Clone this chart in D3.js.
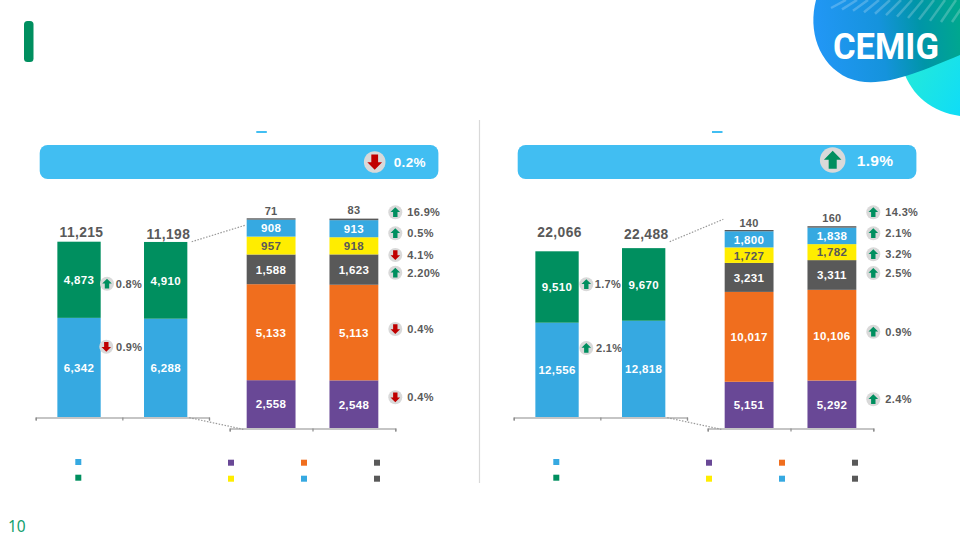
<!DOCTYPE html>
<html><head><meta charset="utf-8">
<script src="https://cdn.jsdelivr.net/npm/d3@7/dist/d3.min.js"></script>
<style>html,body{margin:0;padding:0;background:#fff}svg{display:block}text{font-family:"Liberation Sans",Arial,sans-serif;font-weight:700}</style>
</head><body><svg id="c" width="960" height="540"></svg>
<script>
// ---- data ----
const pageNumber = "10";
const logoText = "CEMIG";
const yearsIdx = [0, 1];
const leftMainA = [6342, 6288];
const leftMainB = [4873, 4910];
const leftTotals = [11215, 11198];
const rightMainA = [12556, 12818];
const rightMainB = [9510, 9670];
const rightTotals = [22066, 22488];
const leftPurple = [2558, 2548];
const leftOrange = [5133, 5113];
const leftGrey = [1588, 1623];
const leftYellow = [957, 918];
const leftBlue = [908, 913];
const leftOther = [71, 83];
const rightPurple = [5151, 5292];
const rightOrange = [10017, 10106];
const rightGrey = [3231, 3311];
const rightYellow = [1727, 1782];
const rightBlue = [1800, 1838];
const rightOther = [140, 160];
const leftHeadPct = ["0.2%", "down"];
const rightHeadPct = ["1.9%", "up"];
const leftMainPct = [["0.8%", "up"], ["0.9%", "down"]];
const rightMainPct = [["1.7%", "up"], ["2.1%", "up"]];
const leftDetailPct = [["16.9%","up"],["0.5%","up"],["4.1%","down"],["2.20%","up"],["0.4%","down"],["0.4%","down"]];
const rightDetailPct = [["14.3%","up"],["2.1%","up"],["3.2%","up"],["2.5%","up"],["0.9%","up"],["2.4%","up"]];

// ---- style & layout ----
const C = {blue:"#36A9E1", green:"#008F5F", purple:"#694896", orange:"#F06E1E", grey:"#595959", yellow:"#FFED00",
  head:"#41BEF2", red:"#C00000", disc:"#D9D9D9", axis:"#8C8C8C"};
const svg = d3.select("#c");
const fmt = d3.format(",");
const defs = svg.append("defs");

function grad(id,x1,y1,x2,y2,stops){
  const g=defs.append("linearGradient").attr("id",id).attr("gradientUnits","userSpaceOnUse")
    .attr("x1",x1).attr("y1",y1).attr("x2",x2).attr("y2",y2);
  stops.forEach(s=>g.append("stop").attr("offset",s[0]).attr("stop-color",s[1]));
}
grad("gBlue",815,40,960,20,[[0,"#2297F6"],[.45,"#1593DC"],[.72,"#0095A8"],[1,"#00A88E"]]);
grad("gCyan",905,80,960,110,[[0,"#22E8DC"],[1,"#10DDF6"]]);

// logo
svg.append("path").attr("fill","url(#gCyan)").attr("d","M903,70 C912,96 932,112 960,116 L960,48 Z");
svg.append("path").attr("fill","url(#gBlue)").attr("d","M816,0 C808,30 818,64 848,78 C878,90 915,74 960,55 L960,0 Z");
const hatch = d3.range(0,13).map(i=>845+i*11);
svg.append("g").selectAll("line").data(hatch).join("line")
  .attr("x1",d=>d+1).attr("y1",0).attr("x2",d=>d-14).attr("y2",d=>Math.min(8+(d-845)*.13,22))
  .attr("stroke","#fff").attr("stroke-opacity",.22).attr("stroke-width",2.5);
svg.append("text").attr("x",833).attr("y",59).attr("textLength",106).attr("lengthAdjust","spacingAndGlyphs")
  .attr("fill","#fff").style("font-family","Roboto").style("font-weight",700).style("font-size","36px").text(logoText);

// title marker, page number, divider
svg.append("rect").attr("x",24).attr("y",21).attr("width",9.5).attr("height",41).attr("rx",3.5).attr("fill",C.green);
svg.append("text").attr("x",8).attr("y",532).attr("fill","#12A06E").style("font-family","Noto Sans").style("font-weight",400).style("font-size","15.5px").text(pageNumber);
svg.append("line").attr("x1",479.5).attr("x2",479.5).attr("y1",120).attr("y2",483).attr("stroke","#D9D9D9").attr("stroke-width",1.2);

function arrow(g,cx,cy,r,dir){
  g.append("circle").attr("cx",cx).attr("cy",cy).attr("r",r).attr("fill",C.disc);
  const u=r/7, s=dir==="up"?-1:1;
  const pts=[[-2.2,-4.8],[2.2,-4.8],[2.2,.2],[4.8,.2],[0,5],[-4.8,.2],[-2.2,.2]].map(p=>[cx+p[0]*u,cy+s*p[1]*u]);
  g.append("polygon").attr("points",pts.join(" ")).attr("fill",dir==="up"?C.green:C.red);
}
function pct(g,item,cx,cy,r,tx,size,color){
  arrow(g,cx,cy,r,item[1]);
  g.append("text").attr("x",tx).attr("y",cy).attr("dy",".38em").attr("fill",color||C.grey).style("font-size",size+"px").style("letter-spacing",".35px").text(item[0]);
}
function stacked(g,opt){
  const x=d3.scaleBand().domain(yearsIdx).range(opt.xr).paddingInner(opt.pad).paddingOuter(opt.pad/2);
  const y=d3.scaleLinear().domain([0,opt.max]).range([opt.base,opt.base-opt.h]);
  opt.series.forEach((s,k)=>{
    const below=opt.series.slice(0,k);
    yearsIdx.forEach(i=>{
      const y0=d3.sum(below,b=>b.v[i]), y1=y0+s.v[i];
      g.append("rect").attr("x",x(i)).attr("width",x.bandwidth()).attr("y",y(y1)).attr("height",y(y0)-y(y1)).attr("fill",s.c);
      if(s.top){
        g.append("text").attr("x",x(i)+x.bandwidth()/2).attr("y",opt.topY[i]).attr("dy",".38em").attr("text-anchor","middle").attr("fill",C.grey).style("font-size",opt.topSize+"px").style("letter-spacing",".35px").text(fmt(s.v[i]));
      } else {
        g.append("text").attr("x",x(i)+x.bandwidth()/2).attr("y",(y(y0)+y(y1))/2).attr("dy",".38em").attr("text-anchor","middle")
         .attr("fill",s.c===C.yellow?C.grey:"#fff").style("font-size","11.5px").style("letter-spacing",".35px").text(fmt(s.v[i]));
      }
    });
  });
  const ax=d3.scaleLinear().domain([0,2]).range(opt.xr);
  const a=g.append("g").attr("transform",`translate(0,${opt.base+.5})`).call(d3.axisBottom(ax).tickValues([0,1,2]).tickSize(3).tickFormat(""));
  a.selectAll("path,line").attr("stroke",C.axis).attr("stroke-width",1.2);
}
function dotted(x1,y1,x2,y2){
  svg.append("line").attr("x1",x1).attr("y1",y1).attr("x2",x2).attr("y2",y2).attr("stroke","#999").attr("stroke-width",1.2).attr("stroke-dasharray","1.5 1.5");
}
function legendSquare(x,y,c){ svg.append("rect").attr("x",x).attr("y",y).attr("width",6).attr("height",6).attr("fill",c); }

function panel(o){
  const g=svg.append("g");
  g.append("rect").attr("x",o.dx+39.7).attr("y",145).attr("width",398.7).attr("height",34).attr("rx",8).attr("fill",C.head);
  g.append("rect").attr("x",o.dash).attr("y",131).attr("width",10.5).attr("height",2).attr("fill",C.head);
  pct(g,o.head,o.hc[0],o.hc[1],o.hc[2],o.hc[3],o.hc[4],"#fff");

  stacked(g,{xr:[o.dx+35.7,o.dx+209],pad:.5,base:417,h:o.mainH,max:o.mainMax,topY:[],topSize:0,
    series:[{v:o.a,c:C.blue},{v:o.b,c:C.green}]});
  o.tot.forEach((t,i)=>{
    g.append("text").attr("x",o.dx+[81.5,168.3][i]).attr("y",[232,234][i]).attr("dy",".36em").attr("text-anchor","middle").attr("fill",C.grey).style("font-size","13.8px").style("letter-spacing",".4px").text(fmt(t));
  });
  stacked(g,{xr:[o.dx+229.7,o.dx+395.3],pad:.41,base:428,h:o.detH,max:o.detMax,topY:o.topY,topSize:11,
    series:[{v:o.p,c:C.purple},{v:o.o,c:C.orange},{v:o.g,c:C.grey},{v:o.y,c:C.yellow},{v:o.l,c:C.blue},{v:o.t,c:C.grey,top:true}]});
  o.mp.forEach((m,i)=>pct(g,m,o.dx+o.mpX[i],o.mpY[i],7,o.dx+o.mpT[i],11));
  o.dp.forEach((m,i)=>pct(g,m,o.dx+395.3,o.dpY[i],7,o.dx+407.3,11));

  dotted(o.dx+191.7,241.7,o.dx+o.c[0],o.c[1]);
  dotted(o.dx+189.3,417.7,o.dx+243.3,429.3);
  legendSquare(o.dx+75.3,459,C.blue); legendSquare(o.dx+75.3,474.7,C.green);
  [[228,459.7,C.purple],[301,459.7,C.orange],[374,459.7,C.grey],[228,475.7,C.yellow],[301,475.7,C.blue],[374,475.7,C.grey]]
    .forEach(l=>legendSquare(o.dx+l[0],l[1],l[2]));
}
panel({dx:0,dash:256.3,head:leftHeadPct,hc:[374.7,162,10.8,393.7,13.5],
  a:leftMainA,b:leftMainB,tot:leftTotals,mainH:175.3,mainMax:11215,
  p:leftPurple,o:leftOrange,g:leftGrey,y:leftYellow,l:leftBlue,t:leftOther,detH:209.7,detMax:11215,topY:[211,210],
  mp:leftMainPct,mpX:[107,106.3],mpY:[283.7,346.7],mpT:[115.7,116],
  dp:leftDetailPct,dpY:[212.3,233.3,255,272.7,329,397.3],c:[246,225]});
panel({dx:478,dash:712,head:rightHeadPct,hc:[832.7,160,12.8,856.7,15.5],
  a:rightMainA,b:rightMainB,tot:rightTotals,mainH:165.7,mainMax:22066,
  p:rightPurple,o:rightOrange,g:rightGrey,y:rightYellow,l:rightBlue,t:rightOther,detH:198,detMax:22066,topY:[223,217.5],
  mp:rightMainPct,mpX:[108.3,108.3],mpY:[284.3,348],mpT:[116.7,118],
  dp:rightDetailPct,dpY:[212.3,233.3,254.3,273,331.7,399.3],c:[245.3,219.3]});
</script></body></html>
